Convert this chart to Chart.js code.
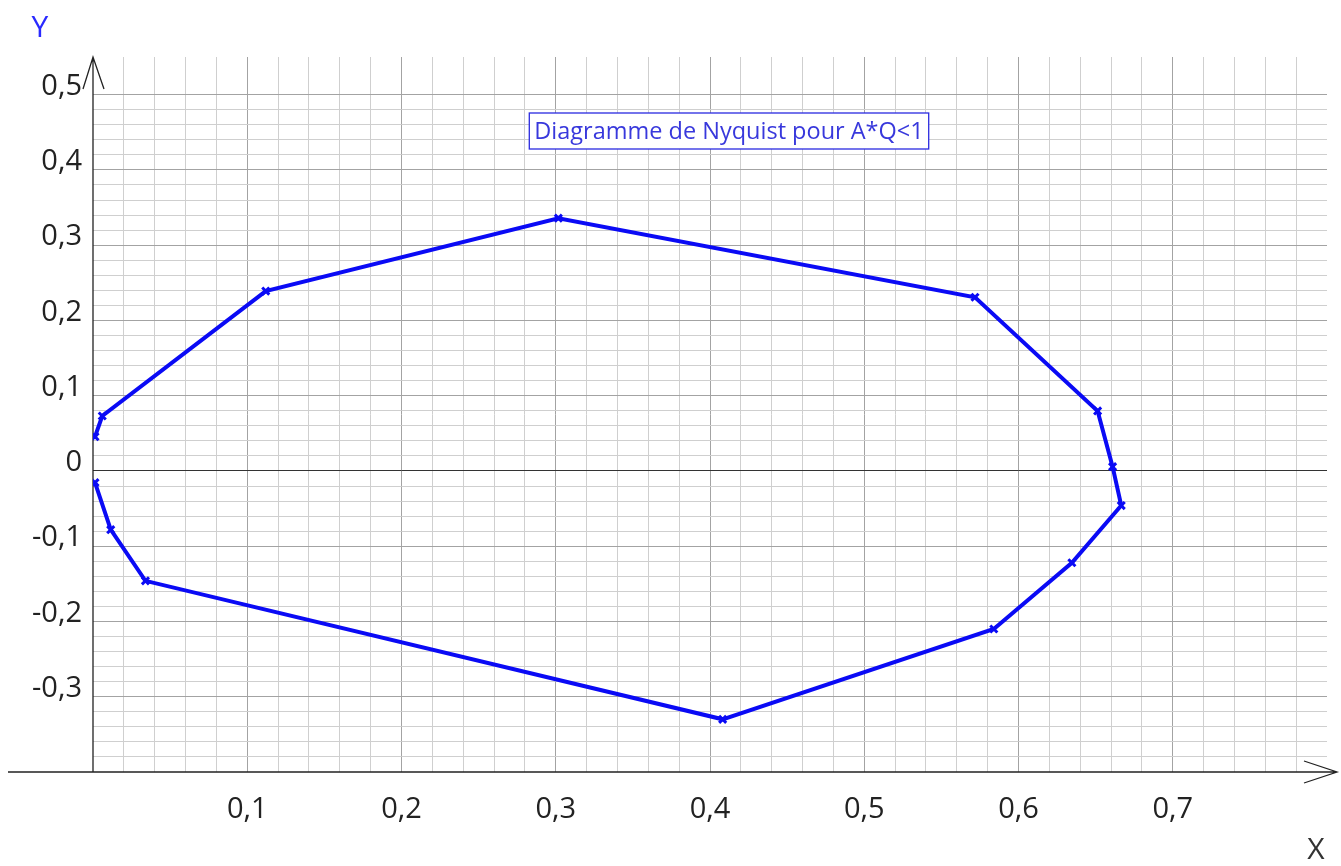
<!DOCTYPE html>
<html>
<head>
<meta charset="utf-8">
<script src="https://cdn.jsdelivr.net/npm/chart.js@4.4.1/dist/chart.umd.min.js"></script>
<style>
  html, body { margin: 0; padding: 0; background: #fff; overflow: hidden; }
  #wrap { width: 1341px; height: 866px; position: relative; }
</style>
</head>
<body>
<div id="wrap"><canvas id="nyquist"></canvas></div>
<script>
// points, in the order the curve is traced
const reelX = [0.0013, 0.006, 0.112, 0.3017, 0.5718, 0.6513, 0.661, 0.6666, 0.6346, 0.584, 0.4082, 0.034, 0.0115, 0.0013];
const imagY = [0.0455, 0.073, 0.239, 0.3358, 0.2308, 0.0797, 0.0057, -0.046, -0.122, -0.210, -0.330, -0.146, -0.078, -0.0155];

// labelled ticks
const xLabels = [0.1, 0.2, 0.3, 0.4, 0.5, 0.6, 0.7];
const yLabels = [0.5, 0.4, 0.3, 0.2, 0.1, 0, -0.1, -0.2, -0.3];

const titre = 'Diagramme de Nyquist pour A*Q<1';
const FONT = '"Open Sans", "Noto Sans", sans-serif';

const points = reelX.map((x, i) => ({ x: x, y: imagY[i] }));

// minor grid every 0.02
function pas(min, max) {
  const t = [];
  for (let i = Math.round(min * 50); i <= Math.round(max * 50); i++) t.push({ value: i / 50 });
  return t;
}
const estMajeur = v => Math.abs(v * 10 - Math.round(v * 10)) < 1e-6;
const virgule = v => Math.abs(v) < 1e-9 ? '0' : v.toFixed(1).replace('.', ',');
const aLabel = (liste, v) => liste.some(l => Math.abs(l - v) < 1e-6);

// axes with arrows, title box, axis names
const decor = {
  id: 'decor',
  beforeDatasetsDraw(chart) {
    const c = chart.ctx, a = chart.chartArea;
    const x0 = chart.scales.x.getPixelForValue(0);
    c.save();
    c.strokeStyle = '#222';
    c.lineWidth = 1.3;
    c.beginPath();
    // y axis + arrow
    c.moveTo(x0, a.bottom); c.lineTo(x0, a.top);
    c.moveTo(x0 - 10, a.top + 32); c.lineTo(x0, a.top); c.lineTo(x0 + 11, a.top + 32);
    // x axis + arrow
    c.moveTo(8, a.bottom); c.lineTo(1337, a.bottom);
    c.moveTo(1304, a.bottom - 11); c.lineTo(1337, a.bottom); c.lineTo(1304, a.bottom + 11);
    c.stroke();
    c.restore();
  },
  afterDraw(chart) {
    const c = chart.ctx;
    c.save();
    c.font = '23.5px ' + FONT;
    c.textAlign = 'center';
    c.textBaseline = 'middle';
    const w = c.measureText(titre).width + 10;
    c.fillStyle = '#fff';
    c.fillRect(729 - w / 2, 113, w, 36);
    c.strokeStyle = '#2a2ae0';
    c.lineWidth = 1.3;
    c.strokeRect(729 - w / 2, 113, w, 36);
    c.fillStyle = '#3838dc';
    c.fillText(titre, 729, 132);

    c.font = '30px ' + FONT;
    c.fillStyle = '#2a2aff';
    c.fillText('Y', 40, 28);
    c.fillStyle = '#333';
    c.fillText('X', 1316, 850);
    c.restore();
  }
};

new Chart(document.getElementById('nyquist'), {
  type: 'scatter',
  data: {
    datasets: [{
      data: points,
      showLine: true,
      borderColor: 'rgb(10,10,245)',
      backgroundColor: 'rgb(10,10,245)',
      borderWidth: 4,
      pointStyle: 'crossRot',
      pointRadius: 5,
      pointBorderWidth: 3,
      tension: 0
    }]
  },
  options: {
    responsive: true,
    maintainAspectRatio: false,
    animation: false,
    layout: { padding: { top: 57, right: 14, left: 0, bottom: 0 } },
    plugins: { legend: { display: false }, tooltip: { enabled: false }, title: { display: false } },
    scales: {
      x: {
        type: 'linear',
        min: 0, max: 0.8,
        afterBuildTicks: s => { s.ticks = pas(0, 0.8); },
        afterFit: s => { s.height = 94; s.paddingRight = 0; s.paddingLeft = 0; },
        border: { display: false },
        grid: {
          drawTicks: false,
          lineWidth: 1,
          color: ctx => {
            const v = ctx.tick.value;
            if (v < 1e-9 || v > 0.799) return 'rgba(0,0,0,0)';
            return estMajeur(v) ? '#a3a3a3' : '#cfcfcf';
          }
        },
        ticks: {
          autoSkip: false, maxRotation: 0, padding: 20,
          color: '#222', font: { family: FONT, size: 29 },
          callback: v => aLabel(xLabels, v) ? virgule(v) : ''
        }
      },
      y: {
        type: 'linear',
        min: -0.4, max: 0.55,
        afterBuildTicks: s => { s.ticks = pas(-0.4, 0.5); },
        afterFit: s => { s.width = 93; },
        border: { display: false },
        grid: {
          drawTicks: false,
          lineWidth: 1,
          color: ctx => {
            const v = ctx.tick.value;
            if (Math.abs(v) < 1e-9) return '#333';
            if (v < -0.399) return 'rgba(0,0,0,0)';
            return estMajeur(v) ? '#a3a3a3' : '#cfcfcf';
          }
        },
        ticks: {
          autoSkip: false, padding: 11, labelOffset: -8,
          color: '#222', font: { family: FONT, size: 29 },
          callback: v => aLabel(yLabels, v) ? virgule(v) : ''
        }
      }
    }
  },
  plugins: [decor]
});
</script>
</body>
</html>
